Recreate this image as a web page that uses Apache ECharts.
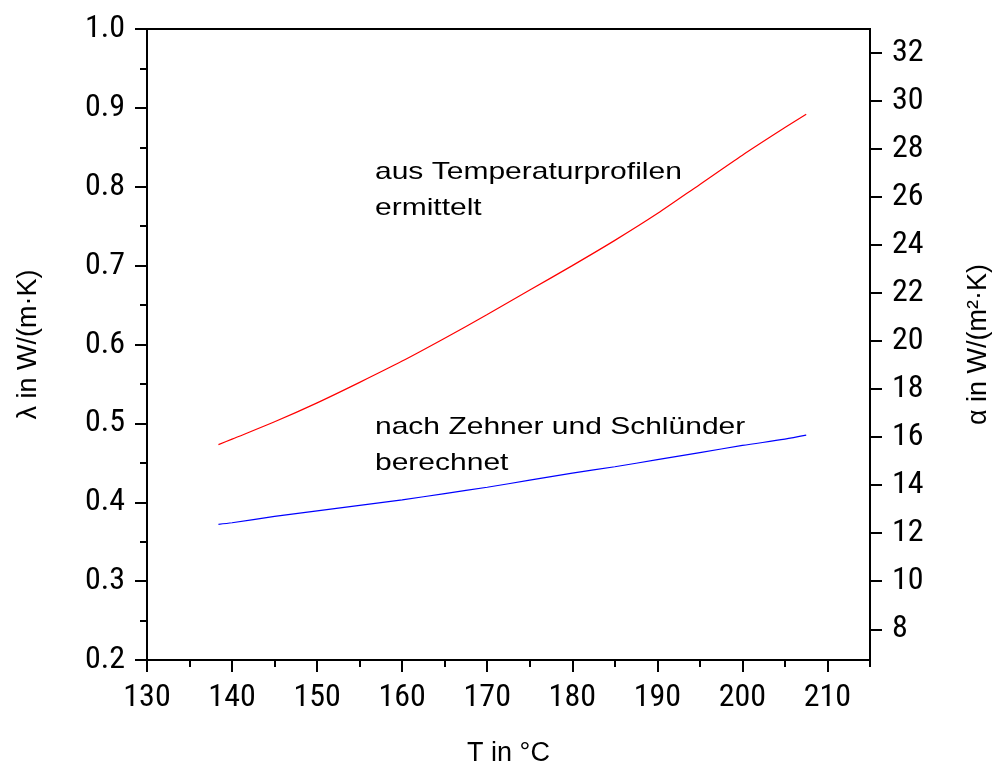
<!DOCTYPE html>
<html>
<head>
<meta charset="utf-8">
<script src="https://cdn.jsdelivr.net/npm/echarts@6/dist/echarts.min.js"></script>
<style>
  html, body { margin: 0; padding: 0; background: #ffffff; }
  #chart { width: 994px; height: 767px; }
</style>
</head>
<body>
<div id="chart"></div>
<script>
// Temperature T in °C
const temperatures = [138.4, 140, 145, 150, 155, 160, 165, 170, 175, 180, 185, 190, 195, 200, 205, 207.5];
// λ determined from temperature profiles, W/(m·K)
const lambdaProfiles = [0.473, 0.480, 0.502, 0.526, 0.552, 0.579, 0.608, 0.638, 0.669, 0.700, 0.732, 0.766, 0.803, 0.840, 0.875, 0.892];
// λ calculated after Zehner and Schlünder, W/(m·K)
const lambdaZehner = [0.372, 0.374, 0.382, 0.389, 0.396, 0.403, 0.411, 0.419, 0.428, 0.437, 0.445, 0.454, 0.463, 0.472, 0.480, 0.485];

const xTickValues = [130, 140, 150, 160, 170, 180, 190, 200, 210];
const xMinorTickValues = [135, 145, 155, 165, 175, 185, 195, 205, 215];
const alphaTickValues = [8, 10, 12, 14, 16, 18, 20, 22, 24, 26, 28, 30, 32];

// Narrow face for the tick numbers, regular face for titles and notes
const tickLabelStyle = {
  fontSize: 32, fontFamily: 'Roboto, "Liberation Sans", sans-serif',
  fontWeight: 'condensed', color: '#000'
};
const textFont = '"Liberation Sans", Arial, sans-serif';
const titleStyle = { fontSize: 27, fontFamily: textFont, color: '#000' };

const chart = echarts.init(document.getElementById('chart'), null, { renderer: 'canvas' });

const toPairs = (xs, ys) => xs.map((x, i) => [x, ys[i]]);

const axisLineStyle = { color: '#000', width: 2 };

// Free-standing notes next to the curves, slightly widened
const note = (text, x, y) => ({
  type: 'text', x: x, y: y, scaleX: 1.25,
  style: {
    text: text, x: 0, y: 0, font: '24px ' + textFont, fill: '#000',
    textAlign: 'left', textVerticalAlign: 'middle', verticalAlign: 'middle'
  }
});

chart.setOption({
  backgroundColor: '#ffffff',
  animation: false,
  grid: {
    left: 147, right: 124, top: 29, bottom: 107, outerBoundsMode: 'none',
    show: true, borderColor: '#000', borderWidth: 2, backgroundColor: 'transparent'
  },
  xAxis: [
    {
      type: 'value', min: 130, max: 215, interval: 10, position: 'bottom',
      axisLine: { onZero: false, lineStyle: axisLineStyle },
      axisTick: { customValues: xTickValues, length: 12, lineStyle: axisLineStyle },
      axisLabel: Object.assign({ customValues: xTickValues, margin: 22 }, tickLabelStyle),
      splitLine: { show: false },
      name: 'T in °C', nameLocation: 'middle', nameGap: 80,
      nameTextStyle: titleStyle
    },
    {
      type: 'value', min: 130, max: 215, position: 'bottom',
      axisLine: { show: false, onZero: false },
      axisTick: { customValues: xMinorTickValues, length: 7, lineStyle: axisLineStyle },
      axisLabel: { show: false },
      splitLine: { show: false }
    }
  ],
  yAxis: [
    {
      type: 'value', min: 0.2, max: 1.0, interval: 0.1, position: 'left',
      axisLine: { onZero: false, lineStyle: axisLineStyle },
      axisTick: { length: 12, lineStyle: axisLineStyle },
      minorTick: { show: true, splitNumber: 2, length: 7, lineStyle: axisLineStyle },
      axisLabel: Object.assign({ margin: 22, formatter: v => v.toFixed(1) }, tickLabelStyle),
      splitLine: { show: false },
      name: 'λ in W/(m·K)', nameLocation: 'middle', nameRotate: 90, nameGap: 105,
      nameTextStyle: titleStyle
    },
    {
      type: 'value', min: 6.72, max: 33, position: 'right',
      axisLine: { onZero: false, lineStyle: axisLineStyle },
      axisTick: { customValues: alphaTickValues, length: 12, lineStyle: axisLineStyle },
      axisLabel: Object.assign({ customValues: alphaTickValues, margin: 22 }, tickLabelStyle),
      splitLine: { show: false },
      name: 'α in W/(m²·K)', nameLocation: 'middle', nameRotate: 90, nameGap: 95,
      nameTextStyle: titleStyle
    }
  ],
  series: [
    {
      name: 'aus Temperaturprofilen ermittelt', type: 'line',
      xAxisIndex: 0, yAxisIndex: 0,
      data: toPairs(temperatures, lambdaProfiles),
      showSymbol: false, smooth: 0.3,
      lineStyle: { color: '#ff0000', width: 1.2 }
    },
    {
      name: 'nach Zehner und Schlünder berechnet', type: 'line',
      xAxisIndex: 0, yAxisIndex: 0,
      data: toPairs(temperatures, lambdaZehner),
      showSymbol: false, smooth: 0.3,
      lineStyle: { color: '#0000ff', width: 1.2 }
    }
  ],
  graphic: [
    note('aus Temperaturprofilen', 375, 172),
    note('ermittelt', 375, 208),
    note('nach Zehner und Schlünder', 375, 427),
    note('berechnet', 375, 463)
  ]
});
</script>
</body>
</html>
